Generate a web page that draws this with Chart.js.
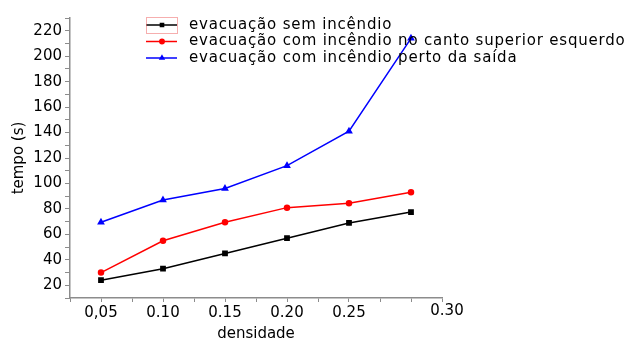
<!DOCTYPE html>
<html>
<head>
<meta charset="utf-8">
<script src="https://cdn.jsdelivr.net/npm/chart.js@4.4.0/dist/chart.umd.min.js"></script>
<style>
  html, body { margin: 0; padding: 0; background: #fff; }
  canvas { display: block; }
</style>
</head>
<body>
<canvas id="chart" width="630" height="339"></canvas>
<script>
// data
const densidade = [0.05, 0.10, 0.15, 0.20, 0.25, 0.30];
const semIncendio = [24, 33, 45, 57, 69, 77.5];
const cantoSuperior = [30, 55, 69.5, 81, 84.5, 93];
const pertoSaida = [69.5, 87, 96, 114, 141, 214];
const seriesNames = [
    'evacuação sem incêndio',
    'evacuação com incêndio no canto superior esquerdo',
    'evacuação com incêndio perto da saída'
];
const xLabels = { 50: '0,05', 100: '0.10', 150: '0.15', 200: '0.20', 250: '0.25' };
const lastXLabel = '0.30';

const FONT = 'DejaVu Sans';
const toPoints = ys => ys.map((y, i) => ({ x: densidade[i], y: y }));

// legend drawn over the plot, as in the original
const overLegend = {
    id: 'overLegend',
    afterDraw(chart) {
        const ctx = chart.ctx;
        ctx.save();
        chart.data.datasets.forEach((ds, i) => {
            const y = 25 + i * 16.5;
            ctx.strokeStyle = ds.borderColor;
            ctx.lineWidth = 1.5;
            ctx.beginPath();
            ctx.moveTo(146, y);
            ctx.lineTo(177, y);
            ctx.stroke();
            ctx.fillStyle = ds.borderColor;
            Chart.helpers.drawPoint(ctx, {
                pointStyle: ds.pointStyle, radius: 2.2, borderWidth: 1
            }, 162, y);
            ctx.fill();
            ctx.fillStyle = '#000';
            ctx.font = '15px "' + FONT + '"';
            ctx.letterSpacing = '0.8px';
            ctx.textBaseline = 'middle';
            ctx.fillText(ds.label, 189, y);
            ctx.letterSpacing = '0px';
        });
        // selection box around the first entry
        ctx.strokeStyle = 'rgba(240,120,120,0.6)';
        ctx.lineWidth = 1;
        ctx.strokeRect(146.5, 17.5, 31, 16);

        // stray last x label
        const xs = chart.scales.x;
        ctx.fillStyle = '#000';
        ctx.font = '15px "' + FONT + '"';
        ctx.textAlign = 'center';
        ctx.textBaseline = 'top';
        ctx.fillText(lastXLabel, xs.getPixelForValue(xs.max) + 5, xs.top + 6);
        ctx.restore();
    }
};

new Chart(document.getElementById('chart'), {
    type: 'line',
    data: {
        datasets: [{
            label: seriesNames[0],
            data: toPoints(semIncendio),
            borderColor: '#000000',
            backgroundColor: '#000000',
            pointStyle: 'rect',
            pointRadius: 3,
            borderWidth: 1.5
        }, {
            label: seriesNames[1],
            data: toPoints(cantoSuperior),
            borderColor: '#ff0000',
            backgroundColor: '#ff0000',
            pointStyle: 'circle',
            pointRadius: 2.5,
            borderWidth: 1.5
        }, {
            label: seriesNames[2],
            data: toPoints(pertoSaida),
            borderColor: '#0000ff',
            backgroundColor: '#0000ff',
            pointStyle: 'triangle',
            pointRadius: 3,
            borderWidth: 1.5
        }]
    },
    options: {
        responsive: false,
        animation: false,
        layout: { padding: { top: 18, right: 188, left: 10, bottom: 0 } },
        plugins: {
            legend: { display: false },
            tooltip: { enabled: false }
        },
        scales: {
            x: {
                type: 'linear',
                min: 0.025,
                max: 0.325,
                border: { color: '#8c8c8c', width: 1.5 },
                grid: { drawOnChartArea: false, tickLength: 4, color: '#8c8c8c' },
                afterFit: s => { s.height = 41; },
                ticks: {
                    stepSize: 0.025,
                    autoSkip: false,
                    maxRotation: 0,
                    padding: 2,
                    color: '#000',
                    font: { family: FONT, size: 15 },
                    callback: v => xLabels[Math.round(v * 1000)] || ''
                },
                title: {
                    display: true,
                    text: 'densidade',
                    color: '#000',
                    font: { family: FONT, size: 15 },
                    padding: { top: 0, bottom: -4 }
                }
            },
            y: {
                min: 10,
                max: 230,
                border: { color: '#8c8c8c', width: 1.5 },
                grid: { drawOnChartArea: false, tickLength: 5, color: '#8c8c8c' },
                afterFit: s => { s.width = 60; },
                ticks: {
                    stepSize: 10,
                    autoSkip: false,
                    padding: 3,
                    color: '#000',
                    font: { family: FONT, size: 15 },
                    callback: v => (v % 20 === 0 && v >= 20 && v <= 220) ? String(v) : ''
                },
                title: {
                    display: true,
                    text: 'tempo (s)',
                    color: '#000',
                    font: { family: FONT, size: 15 },
                    padding: { top: 0, bottom: 0 }
                }
            }
        }
    },
    plugins: [overLegend]
});
</script>
</body>
</html>
